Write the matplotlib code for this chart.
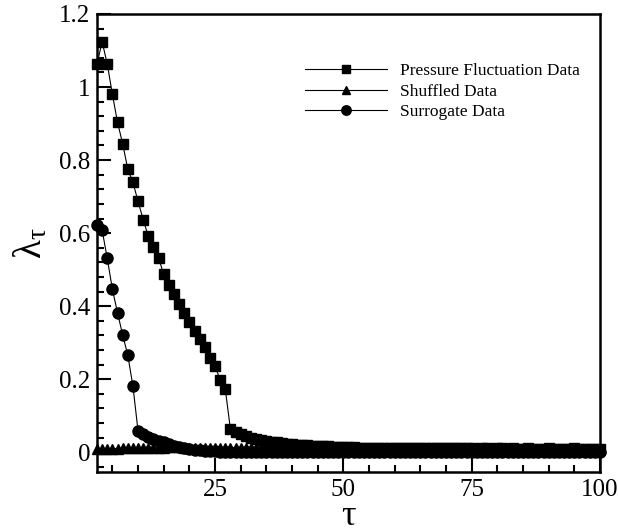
import matplotlib
matplotlib.use('Agg')
import matplotlib.pyplot as plt
from matplotlib.ticker import MultipleLocator, FuncFormatter

plt.rcParams['font.family'] = ['Liberation Serif', 'DejaVu Serif']
plt.rcParams['mathtext.fontset'] = 'custom'
plt.rcParams['mathtext.rm'] = 'Liberation Serif'
plt.rcParams['mathtext.it'] = 'Liberation Serif:italic'

# lag tau = 2 .. 100
tau = list(range(2, 101))

# Pressure Fluctuation Data (squares)
pressure = [
    1.063, 1.124, 1.063, 0.980, 0.903, 0.845, 0.775, 0.739, 0.687, 0.637,
    0.591, 0.561, 0.532, 0.487, 0.459, 0.432, 0.407, 0.380, 0.357, 0.333,
    0.310, 0.287, 0.257, 0.235, 0.199, 0.172, 0.063, 0.056, 0.049, 0.044,
    0.040, 0.036, 0.033, 0.031, 0.029, 0.027, 0.025, 0.023, 0.022, 0.021,
    0.020, 0.019, 0.018, 0.017, 0.016, 0.016, 0.015, 0.015, 0.014, 0.014,
    0.014, 0.013, 0.013, 0.013, 0.013, 0.012, 0.012, 0.012, 0.012, 0.012,
    0.012, 0.011, 0.012, 0.011, 0.011, 0.012, 0.011, 0.011, 0.011, 0.011,
    0.012, 0.011, 0.011, 0.011, 0.010, 0.011, 0.011, 0.010, 0.011, 0.011,
    0.010, 0.011, 0.010, 0.010, 0.011, 0.010, 0.010, 0.010, 0.011, 0.010,
    0.010, 0.010, 0.010, 0.011, 0.010, 0.010, 0.010, 0.010, 0.010,
]

# Shuffled Data (triangles)
shuffled = [
    0.008, 0.009, 0.009, 0.010, 0.010, 0.011, 0.011, 0.012, 0.012, 0.012,
    0.013, 0.013, 0.013, 0.013, 0.014, 0.014, 0.014, 0.013, 0.013, 0.013,
    0.013, 0.013, 0.012, 0.012, 0.012, 0.012, 0.012, 0.012, 0.011, 0.011,
    0.011, 0.011, 0.011, 0.011, 0.011, 0.011, 0.011, 0.010, 0.010, 0.010,
    0.010, 0.010, 0.010, 0.010, 0.010, 0.010, 0.010, 0.010, 0.010, 0.010,
    0.010, 0.010, 0.010, 0.010, 0.010, 0.010, 0.010, 0.010, 0.010, 0.010,
    0.010, 0.010, 0.010, 0.010, 0.010, 0.010, 0.011, 0.010, 0.010, 0.010,
    0.010, 0.010, 0.010, 0.010, 0.010, 0.010, 0.010, 0.010, 0.010, 0.010,
    0.010, 0.010, 0.010, 0.010, 0.010, 0.010, 0.010, 0.010, 0.010, 0.010,
    0.010, 0.010, 0.010, 0.010, 0.010, 0.010, 0.010, 0.010, 0.010,
]

# Surrogate Data (circles)
surrogate = [
    0.622, 0.608, 0.531, 0.446, 0.382, 0.321, 0.266, 0.181, 0.058, 0.050,
    0.043, 0.037, 0.032, 0.027, 0.022, 0.018, 0.014, 0.011, 0.008, 0.006,
    0.005, 0.004, 0.003, 0.003, 0.002, 0.002, 0.002, 0.001, 0.001, 0.001,
    0.001, 0.001, 0.001, 0.001, 0.001, 0.000, 0.000, 0.000, 0.000, 0.000,
    0.000, 0.000, 0.000, 0.000, 0.000, 0.000, 0.000, 0.000, 0.000, 0.000,
    0.000, 0.000, 0.000, 0.000, 0.000, 0.000, 0.000, 0.000, 0.000, 0.000,
    0.000, 0.000, 0.000, 0.000, 0.000, 0.000, 0.000, 0.000, 0.000, 0.000,
    0.000, 0.000, 0.000, 0.000, 0.000, 0.000, 0.000, 0.000, 0.000, 0.000,
    0.000, 0.000, 0.000, 0.000, 0.000, 0.000, 0.000, 0.000, 0.000, 0.000,
    0.000, 0.000, 0.000, 0.000, 0.000, 0.000, 0.000, 0.000, 0.000,
]

fig = plt.figure(figsize=(6.18, 5.32), dpi=100)
ax = fig.add_axes([97 / 618, 1 - 472 / 532, 503 / 618, 458 / 532])

ax.plot(tau, pressure, color='black', lw=0.8, marker='s', ms=7,
        label='Pressure Fluctuation Data', clip_on=False, zorder=3)
ax.plot(tau, shuffled, color='black', lw=0.8, marker='^', ms=6.5,
        label='Shuffled Data', clip_on=False, zorder=4)
ax.plot(tau, surrogate, color='black', lw=0.8, marker='o', ms=8,
        label='Surrogate Data', clip_on=False, zorder=3)

ax.set_xlim(2, 100)
ax.set_ylim(-0.054, 1.2)

ax.xaxis.set_major_locator(MultipleLocator(25))
ax.xaxis.set_minor_locator(MultipleLocator(5))
ax.yaxis.set_major_locator(MultipleLocator(0.2))
ax.yaxis.set_minor_locator(MultipleLocator(0.04))
ax.xaxis.set_major_formatter(FuncFormatter(lambda v, p: '' if v < 20 else '%g' % v))
ax.yaxis.set_major_formatter(FuncFormatter(lambda v, p: '%g' % round(v, 2)))

ax.tick_params(which='both', direction='in', top=False, right=False,
               labelsize=18, width=1.5)
ax.tick_params(which='major', length=10, pad=5)
ax.tick_params(which='minor', length=5)
ax.tick_params(axis='y', which='major', pad=5)

for s in ax.spines.values():
    s.set_linewidth(1.8)

ax.set_xlabel('τ', fontsize=26, labelpad=-1)
ax.set_ylabel(r'$\mathrm{λ}_{\mathrm{τ}}$', fontsize=28, labelpad=6)

ax.legend(loc='upper left', bbox_to_anchor=((305 - 97) / 503, (472 - 63) / 458),
          frameon=False, fontsize=12.5, handlelength=4.7, handletextpad=0.8,
          borderpad=0, borderaxespad=0, labelspacing=0.25, markerscale=0.85)

plt.savefig('out.png', dpi=100)
